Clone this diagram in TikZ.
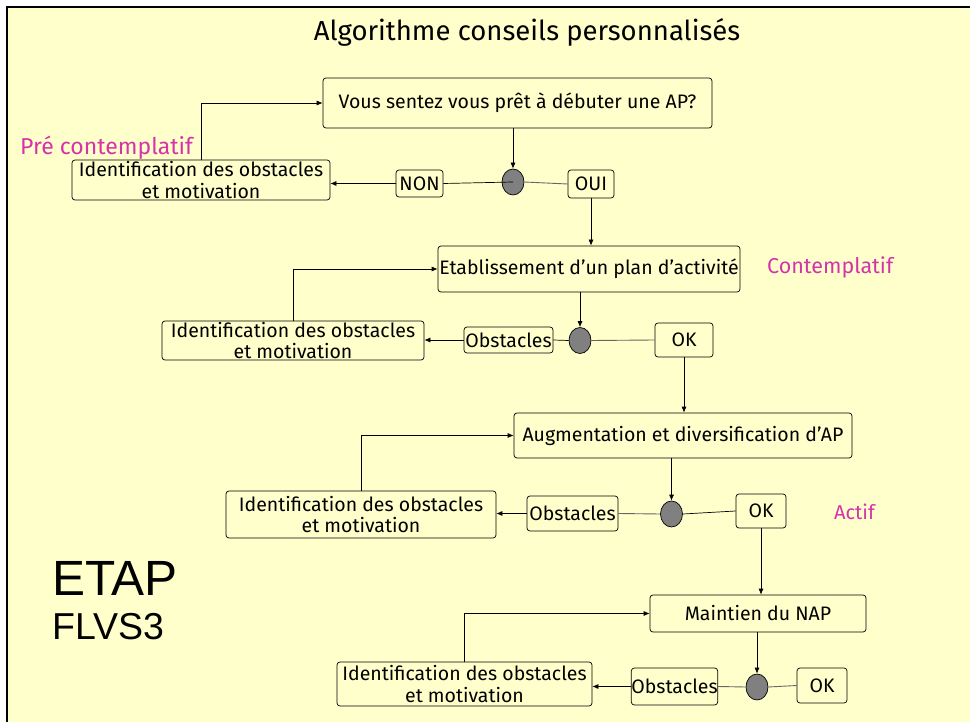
\documentclass[tikz,border=0pt]{standalone}
\usepackage{fontspec}
\setmainfont{Fira Sans}
\newfontfamily\arialf{Liberation Sans}
\usetikzlibrary{arrows.meta,shapes.geometric}
\definecolor{bgy}{RGB}{255,255,204}
\definecolor{mag}{RGB}{214,51,170}
\definecolor{jgray}{RGB}{128,128,128}
\begin{document}
\begin{tikzpicture}[x=1pt,y=-1pt,
  box/.style={draw, rounded corners=3pt, fill=bgy, inner sep=0pt, align=center,
    font=\fontsize{19.5}{21.5}\selectfont, line width=0.7pt},
  junc/.style={ellipse, draw, fill=jgray, minimum width=22pt, minimum height=26pt, inner sep=0pt, line width=0.7pt},
  arr/.style={-{Latex[length=6pt,width=5pt]}, line width=0.7pt},
  ln/.style={line width=0.7pt},
  gln/.style={line width=0.9pt, draw=black!60},
  stage/.style={text=mag, font=\fontsize{23}{26}\selectfont, inner sep=0pt}
]
\path[use as bounding box, fill=white] (0,0) rectangle (970,722);
\fill[bgy] (7,7) rectangle (970,722);
\draw[line width=2pt] (7,722) -- (7,7) -- (970,7);

\node[font=\fontsize{27.5}{30}\selectfont, inner sep=0pt] (title) at (527,32) {Algorithme conseils personnalisés};

% level 1
\node[box, minimum width=389pt, minimum height=50pt] (q1) at (517.5,103) {Vous sentez vous prêt à débuter une AP?};
\node[box, minimum width=258pt, minimum height=40pt] (id1) at (201,180) {Identification des obstacles\\et motivation};
\node[box, minimum width=47pt, minimum height=27pt] (non) at (419.5,183.5) {NON};
\node[junc] (c1) at (513,182) {};
\node[box, minimum width=46pt, minimum height=28pt] (oui) at (591,184) {OUI};
\node[stage, anchor=west] (s1) at (20,148) {Pré contemplatif};

% level 2
\node[box, minimum width=302pt, minimum height=46pt] (q2) at (589,269) {Etablissement d’un plan d’activité};
\node[box, minimum width=262pt, minimum height=39pt] (id2) at (293,340.5) {Identification des obstacles\\et motivation};
\node[box, minimum width=89pt, minimum height=26pt] (obs2) at (508.5,340) {Obstacles};
\node[junc] (c2) at (580,340.5) {};
\node[box, minimum width=58pt, minimum height=34pt] (ok2) at (684,340) {OK};
\node[stage, anchor=west, font=\fontsize{21.5}{24}\selectfont] (s2) at (767,267) {Contemplatif};

% level 3
\node[box, minimum width=338pt, minimum height=45pt] (q3) at (683,435.5) {Augmentation et diversification d’AP};
\node[box, minimum width=270pt, minimum height=47pt] (id3) at (361,514.5) {Identification des obstacles\\et motivation};
\node[box, minimum width=91pt, minimum height=35pt] (obs3) at (572.5,513.5) {Obstacles};
\node[junc] (c3) at (671.5,514) {};
\node[box, minimum width=50pt, minimum height=34pt] (ok3) at (761,511) {OK};
\node[stage, anchor=west, font=\fontsize{20}{22}\selectfont] (s3) at (834,512) {Actif};

% level 4
\node[box, minimum width=216pt, minimum height=37pt] (q4) at (758,613.5) {Maintien du NAP};
\node[box, minimum width=255pt, minimum height=44pt] (id4) at (464.5,684) {Identification des obstacles\\et motivation};
\node[box, minimum width=85pt, minimum height=37pt] (obs4) at (674.5,686.5) {Obstacles};
\node[junc] (c4) at (757,687) {};
\node[box, minimum width=50pt, minimum height=35pt] (ok4) at (822,685.5) {OK};

% ETAP
\node[anchor=west, inner sep=0pt, font=\arialf\fontsize{49.5}{52}\selectfont] (etap) at (52,578) {ETAP};
\node[anchor=west, inner sep=0pt, font=\arialf\fontsize{37.5}{40}\selectfont] (flvs) at (52,627) {FLVS3};

% connectors level 1
\draw[arr] (c1.north |- q1.south) -- (c1.north);
\draw[ln] (c1.center) -- (non.east);
\draw[arr] (non.west) -- (non.west -| id1.east);
\draw[gln] (c1.east) -- (oui.west);
\draw[arr] (oui.south) -- (oui.south |- q2.north);
\draw[arr] (id1.north) |- (q1.west);

% level 2
\draw[arr] (c2.north |- q2.south) -- (c2.north);
\draw[ln] (c2.west) -- (obs2.east);
\draw[arr] (obs2.west) -- (obs2.west -| id2.east);
\draw[gln] (c2.east) -- (ok2.west);
\draw[arr] (ok2.south) -- (ok2.south |- q3.north);
\draw[arr] (id2.north) |- (q2.west);

% level 3
\draw[arr] (c3.north |- q3.south) -- (c3.north);
\draw[gln] (c3.west) -- (obs3.east);
\draw[arr] (obs3.west) -- (obs3.west -| id3.east);
\draw[ln] (c3.east) -- (ok3.west);
\draw[arr] (ok3.south) -- (ok3.south |- q4.north);
\draw[arr] (id3.north) |- (q3.west);

% level 4
\draw[arr] (c4.north |- q4.south) -- (c4.north);
\draw[gln] (c4.west) -- (obs4.east);
\draw[arr] (obs4.west) -- (obs4.west -| id4.east);
\draw[gln] (c4.east) -- (ok4.west);
\draw[arr] (id4.north) |- (q4.west);
\end{tikzpicture}
\end{document}
